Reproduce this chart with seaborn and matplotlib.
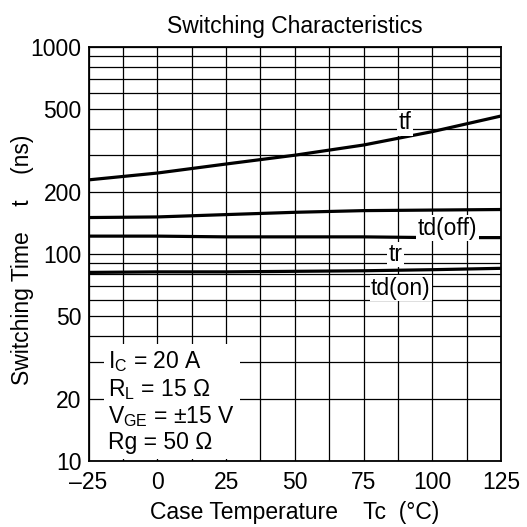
import numpy as np
import pandas as pd
import seaborn as sns
import matplotlib.pyplot as plt
from matplotlib.ticker import FixedLocator, NullFormatter

# values (ns)
temps = [-25, 0, 25, 50, 75, 100, 125]
tf = [228, 246, 272, 300, 336, 390, 464]
td_off = [150, 151, 155, 159, 162, 163, 164]
tr = [122, 122, 121, 121, 121, 120, 120]
td_on = [81.5, 82, 82, 82.5, 83, 84, 85.3]

label_text = ["tf", "td(off)", "tr", "td(on)"]
label_x = [90, 105.5, 86.5, 88.5]
label_y = [430, 133, 99.5, 68.5]

conditions = ("I$_\\mathregular{C}$ = 20 A\nR$_\\mathregular{L}$ = 15 \u03a9\n"
              "V$_\\mathregular{GE}$ = \u00b115 V\nRg = 50 \u03a9")

df = pd.DataFrame({
    "Tc": temps * 4,
    "t": tf + td_off + tr + td_on,
    "curve": sum([[name] * len(temps) for name in label_text], []),
})

sns.set_style("white")
plt.rcParams['font.family'] = ['Liberation Sans', 'DejaVu Sans']
plt.rcParams['mathtext.fontset'] = 'custom'
plt.rcParams['mathtext.rm'] = 'Liberation Sans'
plt.rcParams['text.color'] = 'black'
plt.rcParams['axes.labelcolor'] = 'black'

fig, ax = plt.subplots(figsize=(5.27, 5.27), dpi=100)
fig.subplots_adjust(left=0.168, right=0.951, top=0.911, bottom=0.125)

sns.lineplot(data=df, x="Tc", y="t", hue="curve", palette=["black"] * 4,
             linewidth=2.3, legend=False, ax=ax, zorder=3)

ax.set_yscale("log")
ax.set_xlim(-25, 125)
ax.set_ylim(10, 1000)

ax.xaxis.set_major_locator(FixedLocator(temps))
ax.set_xticklabels(["\u201325", "0", "25", "50", "75", "100", "125"])
ax.xaxis.set_minor_locator(FixedLocator(np.arange(-12.5, 125, 25)))
ax.yaxis.set_major_locator(FixedLocator([10, 20, 50, 100, 200, 500, 1000]))
ax.yaxis.set_major_formatter(plt.FuncFormatter(lambda v, p: f"{int(v)}"))
ax.yaxis.set_minor_locator(FixedLocator([30, 40, 60, 70, 80, 90, 300, 400, 600, 700, 800, 900]))
ax.yaxis.set_minor_formatter(NullFormatter())

ax.grid(True, which="both", color="black", linewidth=0.9, zorder=1)
ax.tick_params(which="both", length=0, labelsize=16.5, colors="black")
ax.tick_params(axis="x", pad=7)
ax.tick_params(axis="y", pad=5)
for s in ax.spines.values():
    s.set_color("black")
    s.set_linewidth(1.3)

ax.set_title("Switching Characteristics", fontsize=16.5, pad=10, color="black")
ax.set_xlabel("Case Temperature    Tc  (\u00b0C)", fontsize=16.5, labelpad=5)
ax.set_ylabel("Switching Time    t    (ns)", fontsize=16.5)
ax.yaxis.set_label_coords(-0.132, 0.486)

for txt, x, y in zip(label_text, label_x, label_y):
    ax.text(x, y, txt, fontsize=16.5, ha="center", va="center", zorder=4,
            bbox=dict(facecolor="white", edgecolor="none", pad=1.0))

ax.text(-17.8, 19.3, conditions, fontsize=16.5, ha="left", va="center",
        linespacing=1.13, zorder=4,
        bbox=dict(facecolor="white", edgecolor="none", pad=3.5))

fig.savefig("out.png", dpi=100)
